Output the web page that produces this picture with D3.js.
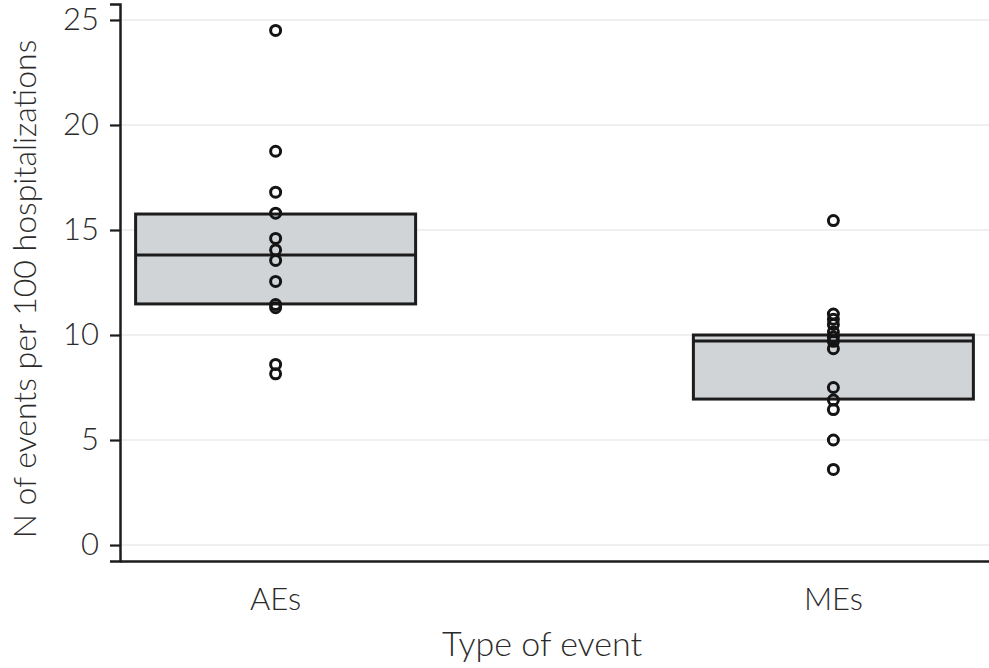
<!DOCTYPE html>
<html>
<head>
<meta charset="utf-8">
<script src="https://cdn.jsdelivr.net/npm/d3@7"></script>
<style>
  html, body { margin: 0; padding: 0; background: #fff; }
  svg { display: block; }
  text { font-family: Lato, "Open Sans", sans-serif; font-weight: 300; fill: #2b2b2b; }
</style>
</head>
<body>
<svg id="chart" width="989" height="668"></svg>
<script>
// ---- data ----
const categories = ["AEs", "MEs"];
const boxLower  = [11.48, 6.95];
const boxMiddle = [13.81, 9.71];
const boxUpper  = [15.76, 10.0];
const pointsAEs = [24.5, 18.75, 16.8, 15.8, 14.6, 14.05, 13.55, 12.55, 11.45, 11.3, 8.6, 8.15];
const pointsMEs = [15.45, 11.0, 10.75, 10.5, 10.15, 9.9, 9.7, 9.35, 7.5, 6.9, 6.45, 5.0, 3.6];
const yTicks = [0, 5, 10, 15, 20, 25];
const xTitle = "Type of event";
const yTitle = "N of events per 100 hospitalizations";

// ---- layout ----
const W = 989, H = 668;
const m = { left: 120, right: 0, top: 4, bottom: 107 };
const svg = d3.select("#chart");

const x = d3.scaleBand().domain(categories)
  .range([m.left, W - m.right]).paddingInner(0.498).paddingOuter(0.028);
const y = d3.scaleLinear().domain([-0.76, 25.76]).range([H - m.bottom, m.top]);

// gridlines
svg.append("g").selectAll("line").data(yTicks).join("line")
  .attr("x1", m.left).attr("x2", W - m.right)
  .attr("y1", d => y(d)).attr("y2", d => y(d))
  .attr("stroke", "#efefef").attr("stroke-width", 2);

// boxes
const boxes = categories.map((c, i) => ({ c, lo: boxLower[i], mid: boxMiddle[i], hi: boxUpper[i] }));
const bg = svg.append("g");
bg.selectAll("rect").data(boxes).join("rect")
  .attr("x", d => x(d.c)).attr("width", x.bandwidth())
  .attr("y", d => y(d.hi)).attr("height", d => y(d.lo) - y(d.hi))
  .attr("fill", "#d1d4d6").attr("stroke", "#1c1c1c").attr("stroke-width", 3);
bg.selectAll("line").data(boxes).join("line")
  .attr("x1", d => x(d.c)).attr("x2", d => x(d.c) + x.bandwidth())
  .attr("y1", d => y(d.mid)).attr("y2", d => y(d.mid))
  .attr("stroke", "#1c1c1c").attr("stroke-width", 3);

// points
const pts = [];
pointsAEs.forEach(v => pts.push({ c: "AEs", v }));
pointsMEs.forEach(v => pts.push({ c: "MEs", v }));
svg.append("g").selectAll("circle").data(pts).join("circle")
  .attr("cx", d => x(d.c) + x.bandwidth() / 2)
  .attr("cy", d => y(d.v))
  .attr("r", 5)
  .attr("fill", "none").attr("stroke", "#141414").attr("stroke-width", 3);

// y axis
const yAxis = svg.append("g").attr("transform", `translate(${m.left},0)`)
  .call(d3.axisLeft(y).tickValues(yTicks).tickSize(10).tickPadding(11));
yAxis.select(".domain").attr("stroke", "#1c1c1c").attr("stroke-width", 2.5);
yAxis.selectAll(".tick line").attr("stroke", "#1c1c1c").attr("stroke-width", 2.2);
yAxis.selectAll(".tick text").style("font-size", "31px").style("font-weight", 300).attr("fill", "#2b2b2b");

// x axis
const xAxis = svg.append("g").attr("transform", `translate(0,${H - m.bottom})`)
  .call(d3.axisBottom(x).tickSize(0).tickPadding(27));
xAxis.select(".domain").attr("stroke", "#1c1c1c").attr("stroke-width", 2.5);
xAxis.selectAll(".tick text").style("font-size", "31px").style("font-weight", 300).attr("fill", "#2b2b2b");

// titles
svg.append("text").attr("x", 542).attr("y", 656).attr("text-anchor", "middle")
  .style("font-size", "34px").text(xTitle);
svg.append("text")
  .attr("transform", `translate(36,${289}) rotate(-90)`)
  .attr("text-anchor", "middle")
  .style("font-size", "32px").text(yTitle);
</script>
</body>
</html>
